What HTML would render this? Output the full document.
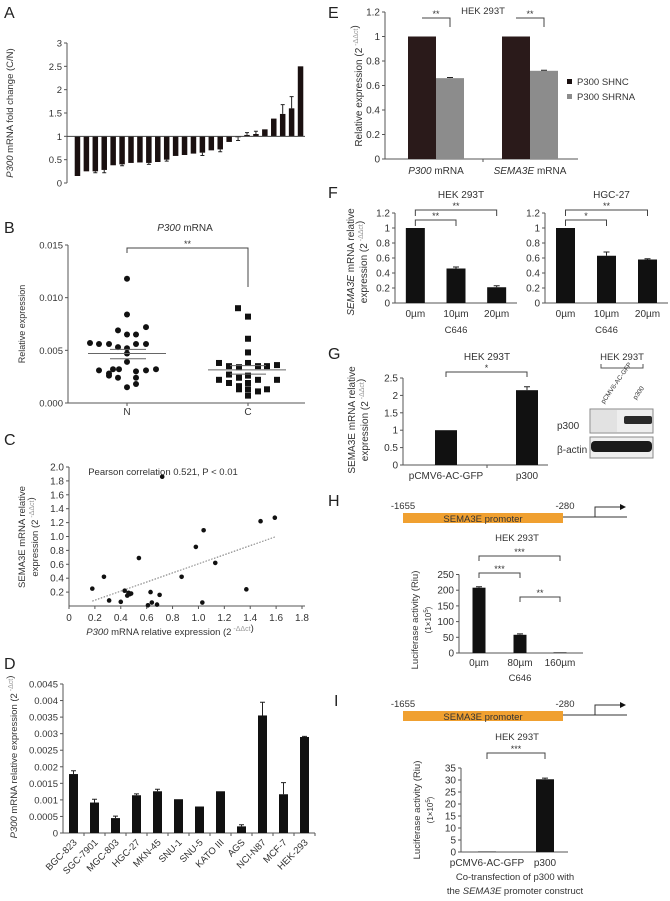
<!DOCTYPE html>
<html><head><meta charset="utf-8"><style>
html,body{margin:0;padding:0;background:#fff}
svg{display:block;font-family:"Liberation Sans",sans-serif}
</style></head><body>
<svg id="fig" width="670" height="901" viewBox="0 0 670 901" xmlns="http://www.w3.org/2000/svg">
<g font-size="16" fill="#222">
<text x="4" y="18">A</text>
<text x="4" y="233">B</text>
<text x="4" y="445">C</text>
<text x="4" y="669">D</text>
<text x="328" y="18">E</text>
<text x="328" y="198">F</text>
<text x="328" y="359">G</text>
<text x="328" y="506">H</text>
<text x="334" y="706">I</text>
</g>
<g id="layer"></g>
</svg>
<script>
// ---- data ----
const aValues=[0.15,0.25,0.25,0.28,0.38,0.4,0.43,0.44,0.43,0.45,0.5,0.58,0.6,0.63,0.65,0.7,0.72,0.88,0.98,1.03,1.05,1.15,1.38,1.48,1.6,2.5];
const aErrors=[0,0,0.03,0.06,0,0.03,0,0,0.03,0,0.03,0,0,0,0.06,0,0.05,0,0.07,0.05,0.06,0,0,0.2,0.25,0];
const aTicks=[0,0.5,1,1.5,2,2.5,3];
const bNValues=[0.0118,0.0084,0.0069,0.0072,0.0065,0.0065,0.0057,0.0056,0.0056,0.0053,0.0052,0.0056,0.0056,0.0047,0.0039,0.0031,0.0028,0.0032,0.0032,0.0030,0.0031,0.0032,0.0024,0.0024,0.0018,0.0015,0.0026];
const bNJitter=[0,0,-9,19,0,9,-37,-28,-18,-9,0,9,19,0,0,-28,-18,-14,-8,9,19,29,-9,9,9,0,-18];
const bCValues=[0.0090,0.0082,0.0061,0.0048,0.0038,0.0035,0.0034,0.0038,0.0035,0.0035,0.0036,0.0027,0.0024,0.0026,0.0022,0.0019,0.0016,0.0019,0.0022,0.0022,0.0013,0.0013,0.0011,0.0013,0.0007];
const bCJitter=[-10,0,0,0,-29,-19,-9,0,10,19,29,-19,-9,0,-29,-19,-9,0,10,29,-9,0,10,19,0];
const bTicks=[0,0.005,0.010,0.015];
const bTickLabels=["0.000","0.005","0.010","0.015"];
const cX=[0.18,0.27,0.31,0.40,0.43,0.45,0.46,0.47,0.48,0.54,0.61,0.63,0.64,0.68,0.70,0.72,0.87,0.98,1.03,1.04,1.13,1.37,1.48,1.59];
const cY=[0.25,0.42,0.08,0.06,0.22,0.15,0.19,0.17,0.18,0.69,0.01,0.20,0.05,0.02,0.16,1.86,0.42,0.85,0.05,1.09,0.62,0.24,1.22,1.27];
const cTrend=[[0.18,0.07],[1.6,1.0]];
const cXTicks=[0,0.2,0.4,0.6,0.8,1.0,1.2,1.4,1.6,1.8];
const cYTicks=[0.2,0.4,0.6,0.8,1.0,1.2,1.4,1.6,1.8,2.0];
const dCats=["BGC-823","SGC-7901","MGC-803","HGC-27","MKN-45","SNU-1","SNU-5","KATO III","AGS","NCI-N87","MCF-7","HEK-293"];
const dValues=[0.00178,0.00092,0.00045,0.00114,0.00126,0.00102,0.0008,0.00126,0.0002,0.00355,0.00117,0.0029];
const dErrors=[0.0001,0.0001,0.00006,0.00004,0.00006,0.00001,0,0.00001,0.00005,0.0004,0.00035,0.00002];
const dTicks=[0,0.0005,0.001,0.0015,0.002,0.0025,0.003,0.0035,0.004,0.0045];
const eCats=["P300 mRNA","SEMA3E mRNA"];
const eSHNC=[1,1];
const eSHRNA=[0.66,0.72];
const eTicks=[0,0.2,0.4,0.6,0.8,1,1.2];
const fCats=["0µm","10µm","20µm"];
const fHek=[1,0.46,0.21];
const fHekErr=[0,0.02,0.02];
const fHgc=[1,0.63,0.58];
const fHgcErr=[0,0.05,0.01];
const fTicks=[0,0.2,0.4,0.6,0.8,1,1.2];
const gCats=["pCMV6-AC-GFP","p300"];
const gValues=[1,2.15];
const gErrors=[0,0.1];
const gTicks=[0,0.5,1,1.5,2,2.5];
const hCats=["0µm","80µm","160µm"];
const hValues=[208,58,2];
const hErrors=[3,3,0];
const hTicks=[0,50,100,150,200,250];
const iCats=["pCMV6-AC-GFP","p300"];
const iValues=[0.2,30.3];
const iErrors=[0,0.5];
const iTicks=[0,5,10,15,20,25,30,35];

// ---- helpers ----
const NS="http://www.w3.org/2000/svg";
const layer=document.getElementById('layer');
function mk(tag,attrs,parent,txt){const e=document.createElementNS(NS,tag);for(const k in attrs)e.setAttribute(k,attrs[k]);if(txt!==undefined)e.textContent=txt;(parent||layer).appendChild(e);return e;}
function grp(name){const g=mk('g',{});


return g;}
function lin(d0,d1,r0,r1){return v=>r0+(v-d0)/(d1-d0)*(r1-r0);}
const AX='#555';
function yAxis(g,x,y,ticks,labels,top,fs){
  const l=mk('line',{x1:x,y1:top,x2:x,y2:y(ticks[0]),stroke:AX,'stroke-width':1},g);
  
  
  ticks.forEach((t,i)=>{mk('line',{x1:x-3,y1:y(t),x2:x,y2:y(t),stroke:AX},g);
    const tx=mk('text',{x:x-5,y:y(t)+3.5,'text-anchor':'end','font-size':fs||10,fill:'#333'},g,labels?labels[i]:String(t));
    
    });
}
function text(g,x,y,s,fs,anchor,name,extra){const t=mk('text',Object.assign({x:x,y:y,'font-size':fs,'text-anchor':anchor||'middle',fill:'#333'},extra||{}),g,s);


return t;}
function rtext(g,x,y,html,fs,name){const t=mk('text',{x:0,y:0,transform:`translate(${x},${y}) rotate(-90)`,'font-size':fs,'text-anchor':'middle',fill:'#333'},g);t.innerHTML=html;


return t;}
function bracket(g,x1,x2,y,d1,d2,star){mk('path',{d:`M${x1},${y+d1}V${y}H${x2}V${y+d2}`,fill:'none',stroke:'#444'},g);
const t=text(g,(x1+x2)/2,y-1,star,9,'middle','significance-marker');}
function bar(g,cx,w,y0,yv,col,name){const r=mk('rect',{x:cx-w/2,y:Math.min(y0,yv),width:w,height:Math.abs(y0-yv),fill:col},g);

return r;}
function err(g,cx,ya,yb,w){if(Math.abs(ya-yb)<0.5)return;mk('path',{d:`M${cx},${ya}V${yb}M${cx-w},${yb}H${cx+w}`,stroke:'#222','stroke-width':1,fill:'none'},g);}
const sup=s=>`<tspan font-size="7" dy="-4" fill="#999">${s}</tspan><tspan dy="4"></tspan>`;

// ---- Panel A ----
(function(){const g=grp('panel-a-chart');const y=lin(0,3,183,43);const x0=67,x1=305;
yAxis(g,x0,y,aTicks,null,43,9.5);
const step=(x1-x0-6)/aValues.length;
aValues.forEach((v,i)=>{const cx=x0+6+step*(i+0.5);bar(g,cx,5.5,y(1),y(v),'#1a1010','bar-a-'+i);
 if(aErrors[i]){const s=v<1?-1:1;err(g,cx,y(v),y(v+s*aErrors[i]),2);}});
mk('line',{x1:x0,y1:y(1),x2:x1,y2:y(1),stroke:'#444'},g);
rtext(g,13,113,'<tspan font-style="italic">P300</tspan> mRNA fold change (C/N)',9.5,'y-axis-title');})();

// ---- Panel B ----
(function(){const g=grp('panel-b-chart');const y=lin(0,0.015,403,245);const x0=68,xN=127,xC=248;
yAxis(g,x0,y,bTicks,bTickLabels,245,9.5);
mk('line',{x1:x0,y1:403,x2:305,y2:403,stroke:AX},g);
mk('line',{x1:xN,y1:403,x2:xN,y2:406,stroke:AX},g);mk('line',{x1:xC,y1:403,x2:xC,y2:406,stroke:AX},g);
text(g,xN,415,'N',10,'middle','x-label-n');text(g,xC,415,'C',10,'middle','x-label-c');
const t=text(g,185,231,'',10,'middle','chart-title');t.innerHTML='<tspan font-style="italic">P300</tspan> mRNA';
bracket(g,xN,xC,248,5,39,'**');
bNValues.forEach((v,i)=>{const c=mk('circle',{cx:xN+bNJitter[i],cy:y(v),r:3,fill:'#111'},g);

});
bCValues.forEach((v,i)=>{const r=mk('rect',{x:xC+bCJitter[i]-3,y:y(v)-3,width:6,height:6,fill:'#111'},g);

});
const mN=bNValues.reduce((a,b)=>a+b)/bNValues.length, mC=bCValues.reduce((a,b)=>a+b)/bCValues.length;
mk('line',{x1:xN-39,y1:y(mN),x2:xN+39,y2:y(mN),stroke:'#666'},g);
mk('line',{x1:xN-17,y1:y(mN+0.0004),x2:xN+19,y2:y(mN+0.0004),stroke:'#666'},g);
mk('line',{x1:xN-17,y1:y(mN-0.0005),x2:xN+19,y2:y(mN-0.0005),stroke:'#666'},g);
mk('line',{x1:xC-40,y1:y(mC),x2:xC+38,y2:y(mC),stroke:'#666'},g);
mk('line',{x1:xC-18,y1:y(mC+0.0004),x2:xC+18,y2:y(mC+0.0004),stroke:'#666'},g);
mk('line',{x1:xC-18,y1:y(mC-0.0004),x2:xC+18,y2:y(mC-0.0004),stroke:'#666'},g);
rtext(g,25,324,'Relative expression',9,'y-axis-title');})();

// ---- Panel C ----
(function(){const g=grp('panel-c-chart');const x=lin(0,1.8,69,302);const y=lin(0,2,606,467);
mk('line',{x1:69,y1:467,x2:69,y2:606,stroke:AX},g);
cYTicks.forEach(t=>{mk('line',{x1:66,y1:y(t),x2:69,y2:y(t),stroke:AX},g);text(g,64,y(t)+3.5,t.toFixed(1),10,'end','y-tick-label');});
mk('line',{x1:69,y1:606,x2:305,y2:606,stroke:AX},g);
cXTicks.forEach(t=>{mk('line',{x1:x(t),y1:606,x2:x(t),y2:609,stroke:AX},g);text(g,x(t),621,t===0?'0':t.toFixed(1),10,'middle','x-tick-label');});
mk('line',{x1:x(cTrend[0][0]),y1:y(cTrend[0][1]),x2:x(cTrend[1][0]),y2:y(cTrend[1][1]),stroke:'#777','stroke-dasharray':'1.5,1.5'},g);
cX.forEach((v,i)=>{const c=mk('circle',{cx:x(v),cy:y(cY[i]),r:2.3,fill:'#111'},g);

});
text(g,163,475,'Pearson correlation 0.521, P < 0.01',9.5,'middle','chart-title');
const xl=text(g,170,635,'',9.5,'middle','x-axis-title');xl.innerHTML='<tspan font-style="italic">P300</tspan> mRNA relative expression (2'+sup(' -ΔΔct')+')';
rtext(g,25,537,'SEMA3E mRNA relative',9.5,'y-axis-title');
rtext(g,38,537,'expression (2'+sup(' -ΔΔct')+')',9.5,'y-axis-title-2');})();

// ---- Panel D ----
(function(){const g=grp('panel-d-chart');const y=lin(0,0.0045,833,684);const x0=63,x1=315;
yAxis(g,x0,y,dTicks,null,684,9.5);
mk('line',{x1:x0,y1:833,x2:x1,y2:833,stroke:AX},g);
const step=(x1-x0)/dCats.length;
dCats.forEach((c,i)=>{const cx=x0+step*(i+0.5);bar(g,cx,9,833,y(dValues[i]),'#111','bar-'+c);
 err(g,cx,y(dValues[i]),y(dValues[i]+dErrors[i]),2.5);
 mk('line',{x1:x0+step*(i+1),y1:833,x2:x0+step*(i+1),y2:836,stroke:AX},g);
 const t=mk('text',{x:0,y:0,transform:`translate(${cx+4},${843}) rotate(-45)`,'text-anchor':'end','font-size':9.5,fill:'#333'},g,c);
 
 });
rtext(g,17,757,'<tspan font-style="italic">P300</tspan> mRNA relative expression (2'+sup(' -Δct')+')',9.5,'y-axis-title');})();

// ---- Panel E ----
(function(){const g=grp('panel-e-chart');const y=lin(0,1.2,159,12);const x0=385;
yAxis(g,x0,y,eTicks,null,12,10);
mk('line',{x1:x0,y1:159,x2:578,y2:159,stroke:AX},g);
const centers=[436,530];
eCats.forEach((c,i)=>{const cx=centers[i];bar(g,cx-14,28,159,y(eSHNC[i]),'#2a1a1a','bar-shnc-'+i);bar(g,cx+14,28,159,y(eSHRNA[i]),'#8c8c8c','bar-shrna-'+i);
 err(g,cx+14,y(eSHRNA[i]),y(eSHRNA[i]+0.005),3);
 bracket(g,cx-14,cx+14,18,0,9,'**');
 const t=text(g,cx,174,'',10,'middle','x-tick-label');t.innerHTML='<tspan font-style="italic">'+c.split(' ')[0]+'</tspan> mRNA';});
mk('line',{x1:483,y1:159,x2:483,y2:162,stroke:AX},g);
text(g,483,14,'HEK 293T',9.5,'middle','chart-title');
const l1=mk('rect',{x:567,y:79,width:5,height:5,fill:'#1a1010'},g);
const l2=mk('rect',{x:567,y:94,width:5,height:5,fill:'#8c8c8c'},g);
text(g,577,85,'P300 SHNC',9.5,'start','legend-entry-shnc');text(g,577,100,'P300 SHRNA',9.5,'start','legend-entry-shrna');
rtext(g,362,86,'Relative expression (2'+sup(' -ΔΔct')+')',10,'y-axis-title');})();

// ---- Panel F ----
function fChart(name,x0,x1,vals,errs,title,s1,s2){const g=grp(name);const y=lin(0,1.2,303,213);
yAxis(g,x0,y,fTicks,null,213,10);
mk('line',{x1:x0,y1:303,x2:x1,y2:303,stroke:AX},g);
const step=(x1-x0)/3;const cs=[];
fCats.forEach((c,i)=>{const cx=x0+step*(i+0.5);cs.push(cx);bar(g,cx,19,303,y(vals[i]),'#111','bar-'+c);err(g,cx,y(vals[i]),y(vals[i]+errs[i]),3);
 text(g,cx,317,c,10,'middle','x-tick-label');});
text(g,cs[1],333,'C646',9.5,'middle','x-axis-title');
text(g,(x0+x1)/2+5,198,title,10,'middle','chart-title');
bracket(g,cs[0],cs[2],210,6,6,s2);bracket(g,cs[0],cs[1],220,6,6,s1);}
fChart('panel-f-hek-chart',395,517,fHek,fHekErr,'HEK 293T','**','**');
fChart('panel-f-hgc-chart',545,668,fHgc,fHgcErr,'HGC-27','*','**');
(function(){const g=grp('panel-f-axis-title');rtext(g,354,262,'<tspan font-style="italic">SEMA3E</tspan> mRNA  relative',10,'y-axis-title');rtext(g,367,262,'expression (2'+sup(' -ΔΔct')+')',10,'y-axis-title-2');})();

// ---- Panel G ----
(function(){const g=grp('panel-g-chart');const y=lin(0,2.5,465,378);const x0=403,x1=548;
yAxis(g,x0,y,gTicks,null,378,10);
mk('line',{x1:x0,y1:465,x2:x1,y2:465,stroke:AX},g);
const cs=[446,527];
gCats.forEach((c,i)=>{bar(g,cs[i],22,465,y(gValues[i]),'#111','bar-'+c);err(g,cs[i],y(gValues[i]),y(gValues[i]+gErrors[i]),3);text(g,cs[i],479,c,10,'middle','x-tick-label');});
mk('line',{x1:487,y1:465,x2:487,y2:468,stroke:AX},g);
text(g,487,360,'HEK 293T',10,'middle','chart-title');
bracket(g,446,527,372,5,5,'*');
rtext(g,355,420,'SEMA3E mRNA  relative',10,'y-axis-title');rtext(g,368,420,'expression (2'+sup(' -ΔΔct')+')',10,'y-axis-title-2');
// western blot
const w=grp('western-blot');
text(w,622,360,'HEK 293T',9.5,'middle','blot-title');
mk('path',{d:'M601,364V368H643V364',fill:'none',stroke:'#555'},w);
const t1=mk('text',{x:0,y:0,transform:'translate(604,404) rotate(-55)','font-size':6.5,fill:'#333'},w,'pCMV6-AC-GFP');
const t2=mk('text',{x:0,y:0,transform:'translate(636,400) rotate(-55)','font-size':6.5,fill:'#333'},w,'p300');
mk('rect',{x:590,y:409,width:63,height:24,fill:'#eeeeee',stroke:'#888'},w);
mk('rect',{x:591,y:410,width:26,height:22,fill:'#e2e2e2'},w);
mk('rect',{x:624,y:416,width:28,height:8,fill:'#2a2a2a',rx:2},w);
mk('rect',{x:590,y:437,width:63,height:21,fill:'#eeeeee',stroke:'#888'},w);
mk('rect',{x:591,y:441,width:61,height:11,fill:'#1a1a1a',rx:4},w);
text(w,557,429,'p300',10,'start','blot-label-p300');text(w,557,453,'β-actin',10,'start','blot-label-actin');})();

// ---- promoter diagrams ----
function promoter(name,y){const g=grp(name);
text(g,403,y-8,'-1655',9.5,'middle','promoter-start-label');text(g,565,y-8,'-280',9.5,'middle','promoter-end-label');
mk('rect',{x:403,y:y-4,width:160,height:10,fill:'#f0a030'},g);
text(g,483,y+5,'SEMA3E promoter',9.5,'middle','promoter-label');
mk('line',{x1:563,y1:y,x2:627,y2:y,stroke:'#333'},g);
mk('path',{d:`M595,${y}V${y-10}H620`,fill:'none',stroke:'#333'},g);
mk('path',{d:`M620,${y-13}L626,${y-10}L620,${y-7}Z`,fill:'#111'},g);}
promoter('panel-h-promoter',517);
promoter('panel-i-promoter',715);

// ---- Panel H ----
(function(){const g=grp('panel-h-chart');const y=lin(0,250,653,574.5);const x0=459,x1=583;
yAxis(g,x0,y,hTicks,null,574.5,10);
mk('line',{x1:x0,y1:653,x2:x1,y2:653,stroke:AX},g);
const cs=[479,520,560];
hCats.forEach((c,i)=>{bar(g,cs[i],13,653,y(hValues[i]),'#111','bar-'+c);err(g,cs[i],y(hValues[i]),y(hValues[i]+hErrors[i]),3);text(g,cs[i],666,c,10,'middle','x-tick-label');});
text(g,520,681,'C646',9.5,'middle','x-axis-title');
text(g,517,541,'HEK 293T',9.5,'middle','chart-title');
bracket(g,479,560,556,5,5,'***');bracket(g,479,520,573,5,5,'***');bracket(g,520,560,597,5,5,'**');
rtext(g,418,620,'Luciferase activity (Riu)',9.5,'y-axis-title');rtext(g,431,620,'(1×10<tspan font-size="6" dy="-3">5</tspan><tspan dy="3">)</tspan>',8,'y-axis-title-2');})();

// ---- Panel I ----
(function(){const g=grp('panel-i-chart');const y=lin(0,35,852,768);const x0=461,x1=568;
yAxis(g,x0,y,iTicks,null,768,10);
mk('line',{x1:x0,y1:852,x2:x1,y2:852,stroke:AX},g);
const cs=[487,545];
iCats.forEach((c,i)=>{bar(g,cs[i],18,852,y(iValues[i]),'#111','bar-'+c);err(g,cs[i],y(iValues[i]),y(iValues[i]+iErrors[i]),3);text(g,cs[i],866,c,10,'middle','x-tick-label');});
text(g,517,740,'HEK 293T',9.5,'middle','chart-title');
bracket(g,487,545,753,6,6,'***');
text(g,515,880,'Co-transfection of p300 with',9.5,'middle','x-axis-title');
const t=text(g,515,894,'',9.5,'middle','x-axis-title-2');t.innerHTML='the <tspan font-style="italic">SEMA3E</tspan> promoter construct';
rtext(g,420,810,'Luciferase activity (Riu)',9.5,'y-axis-title');rtext(g,433,810,'(1×10<tspan font-size="6" dy="-3">5</tspan><tspan dy="3">)</tspan>',8,'y-axis-title-2');})();
</script>
</body></html>
